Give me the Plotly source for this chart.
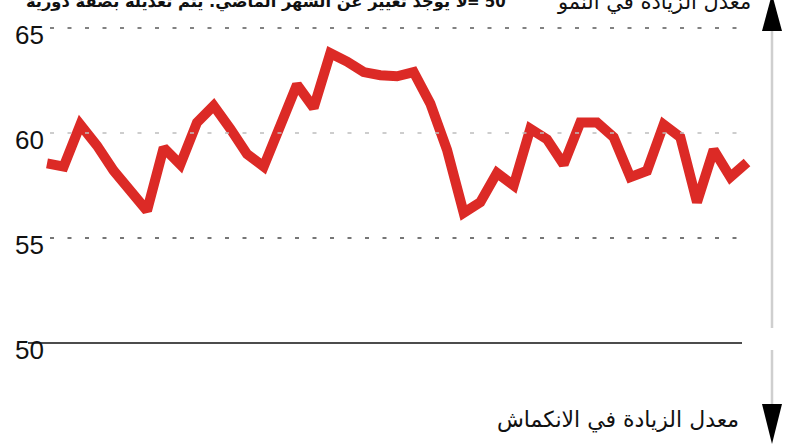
import plotly.graph_objects as go

# ---- data ----
months = list(range(43))
pmi = [58.55, 58.4, 60.4, 59.4, 58.2, 57.2, 56.3, 59.3, 58.5, 60.5,
       61.3, 60.2, 59.0, 58.4, 60.3, 62.3, 61.2, 63.8, 63.4, 62.9,
       62.75, 62.7, 62.9, 61.4, 59.2, 56.2, 56.7, 58.1, 57.5, 60.2,
       59.7, 58.5, 60.5, 60.5, 59.8, 57.9, 58.2, 60.4, 59.8, 56.7,
       59.2, 57.9, 58.6]
tick_vals = [65, 60, 55, 50, 45]
tick_text = ["65", "60", "55", "50", "45"]
title_up = "معدل الزيادة في النمو"
title_down = "معدل الزيادة في الانكماش"
note_num = "= 50"
note_text = "لا يوجد تغيير عن الشهر الماضي. يتم تعديله بصفة دورية"

W, H = 792, 446
# pixel mapping: index 0 -> 47px, index 42 -> 747px ; value 60 -> 133px, 21px per unit
px_per_i = (747 - 47) / 42
x0 = 0 - 47 / px_per_i
x1 = 42 + (W - 747) / px_per_i
ymax = 60 + 133 / 21
ymin = 60 - (H - 133) / 21

def xp(px):
    return px / W

def yp(py):
    return 1 - py / H

def vpaper(v):
    return (v - ymin) / (ymax - ymin)

fig = go.Figure()
fig.add_trace(go.Scatter(x=months, y=pmi, mode="lines",
                         line=dict(color="#dc2a26", width=10),
                         hoverinfo="skip"))

shapes = []
grid_colors = {65: "#5a5a5a", 60: "#bdbdbd", 55: "#4a4a4a"}
for v, c in grid_colors.items():
    shapes.append(dict(type="line", xref="paper", yref="y",
                       x0=xp(50), x1=xp(741), y0=v, y1=v,
                       line=dict(color=c, width=1.5, dash="4px,13.5px")))
shapes.append(dict(type="line", xref="paper", yref="y",
                   x0=xp(28), x1=xp(742), y0=50, y1=50,
                   line=dict(color="#111111", width=1.6)))
# right vertical indicator
shapes.append(dict(type="line", xref="paper", yref="paper",
                   x0=xp(772), x1=xp(772), y0=yp(28), y1=yp(328),
                   line=dict(color="#cfcfcf", width=2.5)))
shapes.append(dict(type="line", xref="paper", yref="paper",
                   x0=xp(772), x1=xp(772), y0=yp(350), y1=yp(406),
                   line=dict(color="#cfcfcf", width=2.5)))
# arrowheads
up = f"M {xp(762)} {yp(31)} L {xp(782)} {yp(31)} L {xp(772)} {yp(-6)} Z"
down = f"M {xp(762)} {yp(404)} L {xp(782)} {yp(404)} L {xp(772)} {yp(444)} Z"
for p in (up, down):
    shapes.append(dict(type="path", xref="paper", yref="paper", path=p,
                       fillcolor="#000000", line=dict(color="#000000", width=0)))

annotations = []
for v, t in zip(tick_vals, tick_text):
    annotations.append(dict(xref="paper", yref="paper", x=xp(46), y=vpaper(v),
                            text=t, showarrow=False, xanchor="right",
                            yanchor="middle", yshift=-7,
                            font=dict(family="Liberation Sans, Arial", size=26,
                                      color="#111111")))
annotations.append(dict(xref="paper", yref="paper", x=xp(753), y=yp(2),
                        text=title_up, showarrow=False, xanchor="right",
                        yanchor="middle",
                        font=dict(family="DejaVu Sans", size=21, color="#111111")))
annotations.append(dict(xref="paper", yref="paper", x=xp(741), y=yp(420),
                        text=title_down, showarrow=False, xanchor="right",
                        yanchor="middle",
                        font=dict(family="DejaVu Sans", size=22, color="#111111")))
annotations.append(dict(xref="paper", yref="paper", x=xp(508), y=yp(2),
                        text="<b>" + note_num + "</b>", showarrow=False,
                        xanchor="right", yanchor="middle",
                        font=dict(family="DejaVu Sans", size=15, color="#111111")))
annotations.append(dict(xref="paper", yref="paper", x=xp(470), y=yp(2),
                        text="<b>" + note_text + "</b>", showarrow=False,
                        xanchor="right", yanchor="middle",
                        font=dict(family="DejaVu Sans", size=16.3, color="#111111")))

fig.update_layout(
    width=W, height=H,
    margin=dict(l=0, r=0, t=0, b=0),
    paper_bgcolor="white", plot_bgcolor="white",
    showlegend=False,
    xaxis=dict(range=[x0, x1], visible=False, fixedrange=True),
    yaxis=dict(range=[ymin, ymax], visible=False, fixedrange=True),
    shapes=shapes, annotations=annotations,
)
fig.write_html("out.html", config={"displayModeBar": False},
               post_script="document.body.style.margin='0';document.body.style.overflow='hidden';")
